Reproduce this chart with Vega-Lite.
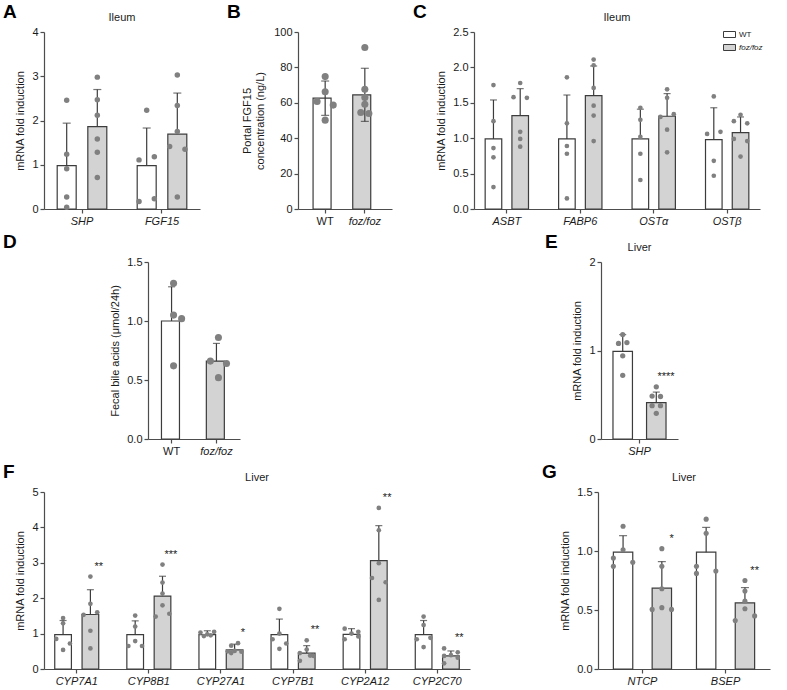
{
"$schema": "https://vega.github.io/schema/vega-lite/v6.json",
"padding": {"left": 3, "top": 3, "right": 5, "bottom": 5},
"background": "white",
"config": {
  "view": {"stroke": null},
  "font": "Liberation Sans",
  "axis": {"domainColor": "#4d4d4d", "domainWidth": 1.2, "tickColor": "#4d4d4d", "tickWidth": 1.2, "tickSize": 4, "labelFontSize": 11, "labelColor": "#1a1a1a", "titleFontSize": 11, "titleFontWeight": "normal", "titleColor": "#1a1a1a", "grid": false, "labelPadding": 2, "titlePadding": 6, "labelOverlap": false},
  "axisY": {"labelOverlap": false},
  "axisX": {"labelAngle": 0, "labelFontStyle": "italic"},
  "title": {"fontSize": 11, "fontWeight": "normal", "color": "#1a1a1a", "baseline": "alphabetic", "offset": 3}
},
"datasets": {
  "A": [
    {"gene":"SHP","group":"WT","mean":0.98,"sd":0.96,"sig":""},
    {"gene":"SHP","group":"foz/foz","mean":1.86,"sd":0.84,"sig":""},
    {"gene":"FGF15","group":"WT","mean":0.98,"sd":0.85,"sig":""},
    {"gene":"FGF15","group":"foz/foz","mean":1.69,"sd":0.93,"sig":""},
    {"gene":"SHP","group":"WT","v":2.46,"lane":"c"},
    {"gene":"SHP","group":"WT","v":1.24,"lane":"c"},
    {"gene":"SHP","group":"WT","v":0.91,"lane":"c"},
    {"gene":"SHP","group":"WT","v":0.27,"lane":"c"},
    {"gene":"SHP","group":"WT","v":0.04,"lane":"c"},
    {"gene":"SHP","group":"foz/foz","v":2.98,"lane":"c"},
    {"gene":"SHP","group":"foz/foz","v":2.47,"lane":"c"},
    {"gene":"SHP","group":"foz/foz","v":2.12,"lane":"c"},
    {"gene":"SHP","group":"foz/foz","v":1.58,"lane":"c"},
    {"gene":"SHP","group":"foz/foz","v":1.28,"lane":"c"},
    {"gene":"SHP","group":"foz/foz","v":0.71,"lane":"c"},
    {"gene":"FGF15","group":"WT","v":2.23,"lane":"c"},
    {"gene":"FGF15","group":"WT","v":1.11,"lane":"a"},
    {"gene":"FGF15","group":"WT","v":1.18,"lane":"e"},
    {"gene":"FGF15","group":"WT","v":0.17,"lane":"a"},
    {"gene":"FGF15","group":"WT","v":0.23,"lane":"e"},
    {"gene":"FGF15","group":"foz/foz","v":3.03,"lane":"c"},
    {"gene":"FGF15","group":"foz/foz","v":2.34,"lane":"c"},
    {"gene":"FGF15","group":"foz/foz","v":1.75,"lane":"c"},
    {"gene":"FGF15","group":"foz/foz","v":1.41,"lane":"a"},
    {"gene":"FGF15","group":"foz/foz","v":1.35,"lane":"e"},
    {"gene":"FGF15","group":"foz/foz","v":0.27,"lane":"c"}
  ],
  "B": [
    {"group":"WT","mean":62.6,"sd":9.7},
    {"group":"foz/foz","mean":64.5,"sd":15},
    {"group":"WT","v":74.8,"lane":"c"},
    {"group":"WT","v":66.2,"lane":"c"},
    {"group":"WT","v":60.7,"lane":"a"},
    {"group":"WT","v":58.7,"lane":"e"},
    {"group":"WT","v":50.2,"lane":"c"},
    {"group":"foz/foz","v":91.2,"lane":"c"},
    {"group":"foz/foz","v":67.7,"lane":"c"},
    {"group":"foz/foz","v":63.0,"lane":"c"},
    {"group":"foz/foz","v":59.2,"lane":"c"},
    {"group":"foz/foz","v":54.5,"lane":"b"},
    {"group":"foz/foz","v":54.0,"lane":"d"}
  ],
  "C": [
    {"gene":"ASBT","group":"WT","mean":0.99,"sd":0.55,"sig":""},
    {"gene":"ASBT","group":"foz/foz","mean":1.32,"sd":0.38,"sig":""},
    {"gene":"FABP6","group":"WT","mean":0.99,"sd":0.62,"sig":""},
    {"gene":"FABP6","group":"foz/foz","mean":1.60,"sd":0.42,"sig":""},
    {"gene":"OSTα","group":"WT","mean":0.99,"sd":0.42,"sig":""},
    {"gene":"OSTα","group":"foz/foz","mean":1.31,"sd":0.32,"sig":""},
    {"gene":"OSTβ","group":"WT","mean":0.98,"sd":0.45,"sig":""},
    {"gene":"OSTβ","group":"foz/foz","mean":1.08,"sd":0.22,"sig":""},
    {"gene":"ASBT","group":"WT","v":1.75,"lane":"c"},
    {"gene":"ASBT","group":"WT","v":1.24,"lane":"c"},
    {"gene":"ASBT","group":"WT","v":0.86,"lane":"c"},
    {"gene":"ASBT","group":"WT","v":0.73,"lane":"c"},
    {"gene":"ASBT","group":"WT","v":0.31,"lane":"c"},
    {"gene":"ASBT","group":"foz/foz","v":1.78,"lane":"c"},
    {"gene":"ASBT","group":"foz/foz","v":1.58,"lane":"a"},
    {"gene":"ASBT","group":"foz/foz","v":1.57,"lane":"e"},
    {"gene":"ASBT","group":"foz/foz","v":1.09,"lane":"c"},
    {"gene":"ASBT","group":"foz/foz","v":0.99,"lane":"c"},
    {"gene":"ASBT","group":"foz/foz","v":0.88,"lane":"c"},
    {"gene":"FABP6","group":"WT","v":1.86,"lane":"c"},
    {"gene":"FABP6","group":"WT","v":1.21,"lane":"c"},
    {"gene":"FABP6","group":"WT","v":0.89,"lane":"c"},
    {"gene":"FABP6","group":"WT","v":0.78,"lane":"c"},
    {"gene":"FABP6","group":"WT","v":0.15,"lane":"c"},
    {"gene":"FABP6","group":"foz/foz","v":2.11,"lane":"c"},
    {"gene":"FABP6","group":"foz/foz","v":2.03,"lane":"c"},
    {"gene":"FABP6","group":"foz/foz","v":1.71,"lane":"c"},
    {"gene":"FABP6","group":"foz/foz","v":1.46,"lane":"c"},
    {"gene":"FABP6","group":"foz/foz","v":1.32,"lane":"c"},
    {"gene":"FABP6","group":"foz/foz","v":0.96,"lane":"c"},
    {"gene":"OSTα","group":"WT","v":1.43,"lane":"c"},
    {"gene":"OSTα","group":"WT","v":1.26,"lane":"c"},
    {"gene":"OSTα","group":"WT","v":1.02,"lane":"c"},
    {"gene":"OSTα","group":"WT","v":0.78,"lane":"c"},
    {"gene":"OSTα","group":"WT","v":0.41,"lane":"c"},
    {"gene":"OSTα","group":"foz/foz","v":1.69,"lane":"c"},
    {"gene":"OSTα","group":"foz/foz","v":1.57,"lane":"c"},
    {"gene":"OSTα","group":"foz/foz","v":1.30,"lane":"a"},
    {"gene":"OSTα","group":"foz/foz","v":1.34,"lane":"e"},
    {"gene":"OSTα","group":"foz/foz","v":1.12,"lane":"c"},
    {"gene":"OSTα","group":"foz/foz","v":0.80,"lane":"c"},
    {"gene":"OSTβ","group":"WT","v":1.59,"lane":"c"},
    {"gene":"OSTβ","group":"WT","v":1.06,"lane":"a"},
    {"gene":"OSTβ","group":"WT","v":1.09,"lane":"e"},
    {"gene":"OSTβ","group":"WT","v":0.68,"lane":"c"},
    {"gene":"OSTβ","group":"WT","v":0.47,"lane":"c"},
    {"gene":"OSTβ","group":"foz/foz","v":1.33,"lane":"c"},
    {"gene":"OSTβ","group":"foz/foz","v":1.24,"lane":"a"},
    {"gene":"OSTβ","group":"foz/foz","v":1.21,"lane":"e"},
    {"gene":"OSTβ","group":"foz/foz","v":0.99,"lane":"a"},
    {"gene":"OSTβ","group":"foz/foz","v":0.96,"lane":"e"},
    {"gene":"OSTβ","group":"foz/foz","v":0.74,"lane":"c"}
  ],
  "D": [
    {"group":"WT","mean":1.0,"sd":0.29},
    {"group":"foz/foz","mean":0.66,"sd":0.15},
    {"group":"WT","v":1.32,"lane":"c"},
    {"group":"WT","v":1.05,"lane":"c"},
    {"group":"WT","v":1.02,"lane":"e"},
    {"group":"WT","v":0.62,"lane":"c"},
    {"group":"foz/foz","v":0.86,"lane":"c"},
    {"group":"foz/foz","v":0.66,"lane":"a"},
    {"group":"foz/foz","v":0.64,"lane":"e"},
    {"group":"foz/foz","v":0.52,"lane":"c"}
  ],
  "E": [
    {"gene":"SHP","group":"WT","mean":0.99,"sd":0.19,"sig":""},
    {"gene":"SHP","group":"foz/foz","mean":0.41,"sd":0.12,"sig":"****"},
    {"gene":"SHP","group":"WT","v":1.18,"lane":"c"},
    {"gene":"SHP","group":"WT","v":1.08,"lane":"b"},
    {"gene":"SHP","group":"WT","v":1.09,"lane":"d"},
    {"gene":"SHP","group":"WT","v":0.94,"lane":"c"},
    {"gene":"SHP","group":"WT","v":0.72,"lane":"c"},
    {"gene":"SHP","group":"foz/foz","v":0.59,"lane":"c"},
    {"gene":"SHP","group":"foz/foz","v":0.485,"lane":"b"},
    {"gene":"SHP","group":"foz/foz","v":0.48,"lane":"d"},
    {"gene":"SHP","group":"foz/foz","v":0.376,"lane":"b"},
    {"gene":"SHP","group":"foz/foz","v":0.376,"lane":"d"},
    {"gene":"SHP","group":"foz/foz","v":0.29,"lane":"c"}
  ],
  "F": [
    {"gene":"CYP7A1","group":"WT","mean":0.97,"sd":0.40,"sig":""},
    {"gene":"CYP7A1","group":"foz/foz","mean":1.54,"sd":0.70,"sig":"**"},
    {"gene":"CYP8B1","group":"WT","mean":0.97,"sd":0.39,"sig":""},
    {"gene":"CYP8B1","group":"foz/foz","mean":2.06,"sd":0.56,"sig":"***"},
    {"gene":"CYP27A1","group":"WT","mean":0.97,"sd":0.11,"sig":""},
    {"gene":"CYP27A1","group":"foz/foz","mean":0.54,"sd":0.16,"sig":"*"},
    {"gene":"CYP7B1","group":"WT","mean":0.97,"sd":0.44,"sig":""},
    {"gene":"CYP7B1","group":"foz/foz","mean":0.45,"sd":0.21,"sig":"**"},
    {"gene":"CYP2A12","group":"WT","mean":0.98,"sd":0.16,"sig":""},
    {"gene":"CYP2A12","group":"foz/foz","mean":3.06,"sd":0.99,"sig":"**"},
    {"gene":"CYP2C70","group":"WT","mean":0.97,"sd":0.40,"sig":""},
    {"gene":"CYP2C70","group":"foz/foz","mean":0.37,"sd":0.14,"sig":"**"},
    {"gene":"CYP7A1","group":"WT","v":1.44,"lane":"c"},
    {"gene":"CYP7A1","group":"WT","v":1.29,"lane":"c"},
    {"gene":"CYP7A1","group":"WT","v":0.85,"lane":"a"},
    {"gene":"CYP7A1","group":"WT","v":0.72,"lane":"e"},
    {"gene":"CYP7A1","group":"WT","v":0.54,"lane":"c"},
    {"gene":"CYP7A1","group":"foz/foz","v":2.61,"lane":"c"},
    {"gene":"CYP7A1","group":"foz/foz","v":1.84,"lane":"c"},
    {"gene":"CYP7A1","group":"foz/foz","v":1.60,"lane":"e"},
    {"gene":"CYP7A1","group":"foz/foz","v":1.53,"lane":"a"},
    {"gene":"CYP7A1","group":"foz/foz","v":1.08,"lane":"c"},
    {"gene":"CYP7A1","group":"foz/foz","v":0.58,"lane":"c"},
    {"gene":"CYP8B1","group":"WT","v":1.51,"lane":"c"},
    {"gene":"CYP8B1","group":"WT","v":1.20,"lane":"c"},
    {"gene":"CYP8B1","group":"WT","v":0.79,"lane":"c"},
    {"gene":"CYP8B1","group":"WT","v":0.65,"lane":"a"},
    {"gene":"CYP8B1","group":"WT","v":0.65,"lane":"e"},
    {"gene":"CYP8B1","group":"foz/foz","v":2.95,"lane":"c"},
    {"gene":"CYP8B1","group":"foz/foz","v":2.44,"lane":"c"},
    {"gene":"CYP8B1","group":"foz/foz","v":2.13,"lane":"c"},
    {"gene":"CYP8B1","group":"foz/foz","v":1.80,"lane":"c"},
    {"gene":"CYP8B1","group":"foz/foz","v":1.48,"lane":"a"},
    {"gene":"CYP8B1","group":"foz/foz","v":1.56,"lane":"e"},
    {"gene":"CYP27A1","group":"WT","v":1.03,"lane":"a"},
    {"gene":"CYP27A1","group":"WT","v":0.93,"lane":"b"},
    {"gene":"CYP27A1","group":"WT","v":0.95,"lane":"d"},
    {"gene":"CYP27A1","group":"WT","v":1.05,"lane":"e"},
    {"gene":"CYP27A1","group":"WT","v":0.98,"lane":"c"},
    {"gene":"CYP27A1","group":"foz/foz","v":0.73,"lane":"d"},
    {"gene":"CYP27A1","group":"foz/foz","v":0.66,"lane":"b"},
    {"gene":"CYP27A1","group":"foz/foz","v":0.50,"lane":"a"},
    {"gene":"CYP27A1","group":"foz/foz","v":0.49,"lane":"e"},
    {"gene":"CYP27A1","group":"foz/foz","v":0.51,"lane":"c"},
    {"gene":"CYP27A1","group":"foz/foz","v":0.45,"lane":"b"},
    {"gene":"CYP7B1","group":"WT","v":1.70,"lane":"c"},
    {"gene":"CYP7B1","group":"WT","v":1.00,"lane":"c"},
    {"gene":"CYP7B1","group":"WT","v":0.84,"lane":"a"},
    {"gene":"CYP7B1","group":"WT","v":0.72,"lane":"e"},
    {"gene":"CYP7B1","group":"WT","v":0.57,"lane":"c"},
    {"gene":"CYP7B1","group":"foz/foz","v":0.81,"lane":"c"},
    {"gene":"CYP7B1","group":"foz/foz","v":0.55,"lane":"c"},
    {"gene":"CYP7B1","group":"foz/foz","v":0.45,"lane":"a"},
    {"gene":"CYP7B1","group":"foz/foz","v":0.38,"lane":"d"},
    {"gene":"CYP7B1","group":"foz/foz","v":0.37,"lane":"e"},
    {"gene":"CYP7B1","group":"foz/foz","v":0.23,"lane":"a"},
    {"gene":"CYP2A12","group":"WT","v":1.14,"lane":"a"},
    {"gene":"CYP2A12","group":"WT","v":1.05,"lane":"e"},
    {"gene":"CYP2A12","group":"WT","v":1.00,"lane":"c"},
    {"gene":"CYP2A12","group":"WT","v":0.84,"lane":"a"},
    {"gene":"CYP2A12","group":"WT","v":0.92,"lane":"e"},
    {"gene":"CYP2A12","group":"foz/foz","v":4.55,"lane":"c"},
    {"gene":"CYP2A12","group":"foz/foz","v":3.92,"lane":"c"},
    {"gene":"CYP2A12","group":"foz/foz","v":2.99,"lane":"c"},
    {"gene":"CYP2A12","group":"foz/foz","v":2.57,"lane":"a"},
    {"gene":"CYP2A12","group":"foz/foz","v":2.45,"lane":"e"},
    {"gene":"CYP2A12","group":"foz/foz","v":1.95,"lane":"c"},
    {"gene":"CYP2C70","group":"WT","v":1.48,"lane":"c"},
    {"gene":"CYP2C70","group":"WT","v":1.24,"lane":"c"},
    {"gene":"CYP2C70","group":"WT","v":0.84,"lane":"a"},
    {"gene":"CYP2C70","group":"WT","v":0.88,"lane":"e"},
    {"gene":"CYP2C70","group":"WT","v":0.62,"lane":"c"},
    {"gene":"CYP2C70","group":"foz/foz","v":0.58,"lane":"a"},
    {"gene":"CYP2C70","group":"foz/foz","v":0.47,"lane":"e"},
    {"gene":"CYP2C70","group":"foz/foz","v":0.39,"lane":"c"},
    {"gene":"CYP2C70","group":"foz/foz","v":0.37,"lane":"a"},
    {"gene":"CYP2C70","group":"foz/foz","v":0.32,"lane":"e"},
    {"gene":"CYP2C70","group":"foz/foz","v":0.16,"lane":"a"}
  ],
  "G": [
    {"gene":"NTCP","group":"WT","mean":0.99,"sd":0.14,"sig":""},
    {"gene":"NTCP","group":"foz/foz","mean":0.685,"sd":0.225,"sig":"*"},
    {"gene":"BSEP","group":"WT","mean":0.99,"sd":0.21,"sig":""},
    {"gene":"BSEP","group":"foz/foz","mean":0.56,"sd":0.13,"sig":"**"},
    {"gene":"NTCP","group":"WT","v":1.21,"lane":"c"},
    {"gene":"NTCP","group":"WT","v":1.01,"lane":"c"},
    {"gene":"NTCP","group":"WT","v":0.94,"lane":"a"},
    {"gene":"NTCP","group":"WT","v":0.87,"lane":"a"},
    {"gene":"NTCP","group":"WT","v":0.905,"lane":"e"},
    {"gene":"NTCP","group":"foz/foz","v":1.02,"lane":"c"},
    {"gene":"NTCP","group":"foz/foz","v":0.87,"lane":"c"},
    {"gene":"NTCP","group":"foz/foz","v":0.68,"lane":"c"},
    {"gene":"NTCP","group":"foz/foz","v":0.52,"lane":"c"},
    {"gene":"NTCP","group":"foz/foz","v":0.505,"lane":"a"},
    {"gene":"NTCP","group":"foz/foz","v":0.505,"lane":"e"},
    {"gene":"BSEP","group":"WT","v":1.27,"lane":"c"},
    {"gene":"BSEP","group":"WT","v":1.15,"lane":"c"},
    {"gene":"BSEP","group":"WT","v":0.87,"lane":"a"},
    {"gene":"BSEP","group":"WT","v":0.81,"lane":"a"},
    {"gene":"BSEP","group":"WT","v":0.83,"lane":"e"},
    {"gene":"BSEP","group":"foz/foz","v":0.75,"lane":"c"},
    {"gene":"BSEP","group":"foz/foz","v":0.66,"lane":"c"},
    {"gene":"BSEP","group":"foz/foz","v":0.575,"lane":"c"},
    {"gene":"BSEP","group":"foz/foz","v":0.51,"lane":"c"},
    {"gene":"BSEP","group":"foz/foz","v":0.41,"lane":"a"},
    {"gene":"BSEP","group":"foz/foz","v":0.45,"lane":"e"}
  ]
},
"spacing": 7,
"resolve": {"scale": {"fill": "independent"}, "legend": {"fill": "independent"}},
"vconcat": [
 {"hconcat": [
  {"width": 41, "height": 177, "data": {"values": [{}]}, "mark": {"type": "point", "opacity": 0}, "encoding": {}, "title": {"text": "A", "anchor": "start", "fontSize": 19, "fontWeight": "bold", "offset": 10, "color": "#000000"}},
  {"width": 156, "height": 177, "title": {"text": "Ileum"}, "data": {"name": "A"},
   "encoding": {"x": {"field": "gene", "type": "nominal", "sort": ["SHP","FGF15"], "title": null, "scale": {"paddingInner": 0.38, "paddingOuter": 0.165}}},
   "layer": [
     {"transform": [{"filter": "isValid(datum.mean)"}], "mark": {"type": "bar", "stroke": "#3c3c3c", "strokeWidth": 1.2},
      "encoding": {"xOffset": {"field": "group", "type": "nominal", "scale": {"domain": ["WT","foz/foz"], "paddingInner": 0.38, "paddingOuter": 0}},
        "y": {"field": "mean", "type": "quantitative", "title": "mRNA fold induction", "scale": {"domain": [0,4]}, "axis": {"values": [0,1,2,3,4], "tickCount": 20, "format": "d", "labelOverlap": false}},
        "fill": {"field": "group", "type": "nominal", "scale": {"domain": ["WT","foz/foz"], "range": ["#ffffff","#d3d3d3"]}, "legend": null}}},
     {"transform": [{"filter": "isValid(datum.mean)"}, {"calculate": "datum.mean + datum.sd", "as": "hi"}], "mark": {"type": "rule", "color": "#3c3c3c", "strokeWidth": 1.2},
      "encoding": {"xOffset": {"field": "group", "type": "nominal", "scale": {"domain": ["WT","foz/foz"], "paddingInner": 0.38, "paddingOuter": 0}},
        "y": {"field": "mean", "type": "quantitative", "title": "mRNA fold induction", "scale": {"domain": [0,4]}, "axis": {"values": [0,1,2,3,4], "tickCount": 20, "format": "d", "labelOverlap": false}}, "y2": {"field": "hi"}}},
     {"transform": [{"filter": "isValid(datum.mean)"}, {"calculate": "datum.mean + datum.sd", "as": "hi"}], "mark": {"type": "tick", "color": "#3c3c3c", "thickness": 1.2, "size": 8},
      "encoding": {"xOffset": {"field": "group", "type": "nominal", "scale": {"domain": ["WT","foz/foz"], "paddingInner": 0.38, "paddingOuter": 0}},
        "y": {"field": "hi", "type": "quantitative", "title": "mRNA fold induction", "scale": {"domain": [0,4]}, "axis": {"values": [0,1,2,3,4], "tickCount": 20, "format": "d", "labelOverlap": false}}}},
     {"transform": [{"filter": "isValid(datum.v)"}, {"calculate": "datum.group + '|' + datum.lane", "as": "slot"}], "mark": {"type": "circle", "color": "#808080", "opacity": 1, "size": 30},
      "encoding": {"xOffset": {"field": "slot", "type": "nominal", "scale": {"type": "point", "domain": ["WT|a","WT|b","WT|c","WT|d","WT|e","g1","g2","g3","foz/foz|a","foz/foz|b","foz/foz|c","foz/foz|d","foz/foz|e"], "padding": 0.48}},
        "y": {"field": "v", "type": "quantitative", "title": "mRNA fold induction", "scale": {"domain": [0,4]}, "axis": {"values": [0,1,2,3,4], "tickCount": 20, "format": "d", "labelOverlap": false}}}}
   ],
   "resolve": {"scale": {"xOffset": "independent"}}},
  {"width": 98, "height": 177, "data": {"values": [{}]}, "mark": {"type": "point", "opacity": 0}, "encoding": {}, "title": {"text": "B", "anchor": "start", "fontSize": 19, "fontWeight": "bold", "offset": 10, "dx": 27, "color": "#000000"}},
  {"width": 94, "height": 177, "data": {"name": "B"},
   "encoding": {"x": {"field": "group", "type": "nominal", "sort": ["WT","foz/foz"], "title": null, "scale": {"paddingInner": 0.39, "paddingOuter": 0.38},
     "axis": {"labelFontStyle": {"condition": {"test": "datum.value === 'foz/foz'", "value": "italic"}, "value": "normal"}}}},
   "layer": [
     {"transform": [{"filter": "isValid(datum.mean)"}], "mark": {"type": "bar", "stroke": "#3c3c3c", "strokeWidth": 1.2},
      "encoding": {"y": {"field": "mean", "type": "quantitative", "title": ["Portal FGF15","concentration (ng/L)"], "scale": {"domain": [0,100]}, "axis": {"values": [0,20,40,60,80,100], "tickCount": 20, "format": "d", "labelOverlap": false, "titlePadding": 8}},
        "fill": {"field": "group", "type": "nominal", "scale": {"domain": ["WT","foz/foz"], "range": ["#ffffff","#d3d3d3"]}, "legend": null}}},
     {"transform": [{"filter": "isValid(datum.mean)"}, {"calculate": "datum.mean + datum.sd", "as": "hi"}, {"calculate": "datum.mean - datum.sd", "as": "lo"}], "mark": {"type": "rule", "color": "#3c3c3c", "strokeWidth": 1.2},
      "encoding": {"y": {"field": "lo", "type": "quantitative", "title": ["Portal FGF15","concentration (ng/L)"], "scale": {"domain": [0,100]}, "axis": {"values": [0,20,40,60,80,100], "tickCount": 20, "format": "d", "labelOverlap": false, "titlePadding": 8}}, "y2": {"field": "hi"}}},
     {"transform": [{"filter": "isValid(datum.mean)"}, {"calculate": "datum.mean + datum.sd", "as": "hi"}], "mark": {"type": "tick", "color": "#3c3c3c", "thickness": 1.2, "size": 8},
      "encoding": {"y": {"field": "hi", "type": "quantitative", "title": ["Portal FGF15","concentration (ng/L)"], "scale": {"domain": [0,100]}, "axis": {"values": [0,20,40,60,80,100], "tickCount": 20, "format": "d", "labelOverlap": false, "titlePadding": 8}}}},
     {"transform": [{"filter": "isValid(datum.mean)"}, {"calculate": "datum.mean - datum.sd", "as": "lo"}], "mark": {"type": "tick", "color": "#3c3c3c", "thickness": 1.2, "size": 8},
      "encoding": {"y": {"field": "lo", "type": "quantitative", "title": ["Portal FGF15","concentration (ng/L)"], "scale": {"domain": [0,100]}, "axis": {"values": [0,20,40,60,80,100], "tickCount": 20, "format": "d", "labelOverlap": false, "titlePadding": 8}}}},
     {"transform": [{"filter": "isValid(datum.v)"}], "mark": {"type": "circle", "color": "#808080", "opacity": 1, "size": 50},
      "encoding": {"xOffset": {"field": "lane", "type": "nominal", "scale": {"type": "point", "domain": ["a","b","c","d","e"], "padding": 2.35}},
        "y": {"field": "v", "type": "quantitative", "title": ["Portal FGF15","concentration (ng/L)"], "scale": {"domain": [0,100]}, "axis": {"values": [0,20,40,60,80,100], "tickCount": 20, "format": "d", "labelOverlap": false, "titlePadding": 8}}}}
   ]},
  {"width": 82, "height": 177, "data": {"values": [{}]}, "mark": {"type": "point", "opacity": 0}, "encoding": {}, "title": {"text": "C", "anchor": "start", "fontSize": 19, "fontWeight": "bold", "offset": 10, "dx": 21, "color": "#000000"}},
  {"width": 286, "height": 177, "title": {"text": "Ileum"}, "data": {"name": "C"},
   "encoding": {"x": {"field": "gene", "type": "nominal", "sort": ["ASBT","FABP6","OSTα","OSTβ"], "title": null, "scale": {"paddingInner": 0.41, "paddingOuter": 0.152}}},
   "layer": [
     {"transform": [{"filter": "isValid(datum.mean)"}], "mark": {"type": "bar", "stroke": "#3c3c3c", "strokeWidth": 1.2},
      "encoding": {"xOffset": {"field": "group", "type": "nominal", "scale": {"domain": ["WT","foz/foz"], "paddingInner": 0.38, "paddingOuter": 0}},
        "y": {"field": "mean", "type": "quantitative", "title": "mRNA fold induction", "scale": {"domain": [0,2.5]}, "axis": {"values": [0,0.5,1,1.5,2,2.5], "tickCount": 20, "format": ".1f", "labelOverlap": false}},
        "fill": {"field": "group", "type": "nominal", "scale": {"domain": ["WT","foz/foz"], "range": ["#ffffff","#d3d3d3"]},
          "legend": {"orient": "none", "legendX": 249, "legendY": -4, "title": null, "symbolType": "M-1,-0.5H1V0.5H-1Z", "symbolSize": 144, "symbolStrokeColor": "#3c3c3c", "symbolStrokeWidth": 1, "labelFontSize": 8, "labelColor": "#1a1a1a", "rowPadding": 1, "padding": 0, "labelOffset": 3,
            "encode": {"labels": {"update": {"fontStyle": {"signal": "datum.value === 'foz/foz' ? 'italic' : 'normal'"}}}}}}}},
     {"transform": [{"filter": "isValid(datum.mean)"}, {"calculate": "datum.mean + datum.sd", "as": "hi"}], "mark": {"type": "rule", "color": "#3c3c3c", "strokeWidth": 1.2},
      "encoding": {"xOffset": {"field": "group", "type": "nominal", "scale": {"domain": ["WT","foz/foz"], "paddingInner": 0.38, "paddingOuter": 0}},
        "y": {"field": "mean", "type": "quantitative", "title": "mRNA fold induction", "scale": {"domain": [0,2.5]}, "axis": {"values": [0,0.5,1,1.5,2,2.5], "tickCount": 20, "format": ".1f", "labelOverlap": false}}, "y2": {"field": "hi"}}},
     {"transform": [{"filter": "isValid(datum.mean)"}, {"calculate": "datum.mean + datum.sd", "as": "hi"}], "mark": {"type": "tick", "color": "#3c3c3c", "thickness": 1.2, "size": 7},
      "encoding": {"xOffset": {"field": "group", "type": "nominal", "scale": {"domain": ["WT","foz/foz"], "paddingInner": 0.38, "paddingOuter": 0}},
        "y": {"field": "hi", "type": "quantitative", "title": "mRNA fold induction", "scale": {"domain": [0,2.5]}, "axis": {"values": [0,0.5,1,1.5,2,2.5], "tickCount": 20, "format": ".1f", "labelOverlap": false}}}},
     {"transform": [{"filter": "isValid(datum.v)"}, {"calculate": "datum.group + '|' + datum.lane", "as": "slot"}], "mark": {"type": "circle", "color": "#808080", "opacity": 1, "size": 22},
      "encoding": {"xOffset": {"field": "slot", "type": "nominal", "scale": {"type": "point", "domain": ["WT|a","WT|b","WT|c","WT|d","WT|e","g1","g2","g3","foz/foz|a","foz/foz|b","foz/foz|c","foz/foz|d","foz/foz|e"], "padding": 0.48}},
        "y": {"field": "v", "type": "quantitative", "title": "mRNA fold induction", "scale": {"domain": [0,2.5]}, "axis": {"values": [0,0.5,1,1.5,2,2.5], "tickCount": 20, "format": ".1f", "labelOverlap": false}}}}
   ],
   "resolve": {"scale": {"xOffset": "independent"}}}
 ], "spacing": 0, "bounds": "flush", "resolve": {"scale": {"fill": "independent"}, "legend": {"fill": "independent"}}},

 {"hconcat": [
  {"width": 145, "height": 177, "data": {"values": [{}]}, "mark": {"type": "point", "opacity": 0}, "encoding": {}, "title": {"text": "D", "anchor": "start", "fontSize": 19, "fontWeight": "bold", "offset": 10, "color": "#000000"}},
  {"width": 92, "height": 177, "data": {"name": "D"},
   "encoding": {"x": {"field": "group", "type": "nominal", "sort": ["WT","foz/foz"], "title": null, "scale": {"paddingInner": 0.55, "paddingOuter": 0.3},
     "axis": {"labelFontStyle": {"condition": {"test": "datum.value === 'foz/foz'", "value": "italic"}, "value": "normal"}}}},
   "layer": [
     {"transform": [{"filter": "isValid(datum.mean)"}], "mark": {"type": "bar", "stroke": "#3c3c3c", "strokeWidth": 1.2},
      "encoding": {"y": {"field": "mean", "type": "quantitative", "title": "Fecal bile acids (μmol/24h)", "scale": {"domain": [0,1.5]}, "axis": {"values": [0,0.5,1,1.5], "tickCount": 20, "format": ".1f", "labelOverlap": false}},
        "fill": {"field": "group", "type": "nominal", "scale": {"domain": ["WT","foz/foz"], "range": ["#ffffff","#d3d3d3"]}, "legend": null}}},
     {"transform": [{"filter": "isValid(datum.mean)"}, {"calculate": "datum.mean + datum.sd", "as": "hi"}], "mark": {"type": "rule", "color": "#3c3c3c", "strokeWidth": 1.2},
      "encoding": {"y": {"field": "mean", "type": "quantitative", "title": "Fecal bile acids (μmol/24h)", "scale": {"domain": [0,1.5]}, "axis": {"values": [0,0.5,1,1.5], "tickCount": 20, "format": ".1f", "labelOverlap": false}}, "y2": {"field": "hi"}}},
     {"transform": [{"filter": "isValid(datum.mean)"}, {"calculate": "datum.mean + datum.sd", "as": "hi"}], "mark": {"type": "tick", "color": "#3c3c3c", "thickness": 1.2, "size": 7},
      "encoding": {"y": {"field": "hi", "type": "quantitative", "title": "Fecal bile acids (μmol/24h)", "scale": {"domain": [0,1.5]}, "axis": {"values": [0,0.5,1,1.5], "tickCount": 20, "format": ".1f", "labelOverlap": false}}}},
     {"transform": [{"filter": "isValid(datum.v)"}], "mark": {"type": "circle", "color": "#808080", "opacity": 1, "size": 50},
      "encoding": {"xOffset": {"field": "lane", "type": "nominal", "scale": {"type": "point", "domain": ["a","b","c","d","e"], "padding": 1.35}},
        "y": {"field": "v", "type": "quantitative", "title": "Fecal bile acids (μmol/24h)", "scale": {"domain": [0,1.5]}, "axis": {"values": [0,0.5,1,1.5], "tickCount": 20, "format": ".1f", "labelOverlap": false}}}}
   ]},
  {"width": 361, "height": 177, "data": {"values": [{}]}, "mark": {"type": "point", "opacity": 0}, "encoding": {}, "title": {"text": "E", "anchor": "start", "fontSize": 19, "fontWeight": "bold", "offset": 10, "dx": 305, "color": "#000000"}},
  {"width": 77, "height": 177, "title": {"text": "Liver"}, "data": {"name": "E"},
   "encoding": {"x": {"field": "gene", "type": "nominal", "title": null, "scale": {"paddingInner": 0.38, "paddingOuter": 0.14}}},
   "layer": [
     {"transform": [{"filter": "isValid(datum.mean)"}], "mark": {"type": "bar", "stroke": "#3c3c3c", "strokeWidth": 1.2},
      "encoding": {"xOffset": {"field": "group", "type": "nominal", "scale": {"domain": ["WT","foz/foz"], "paddingInner": 0.42, "paddingOuter": 0}},
        "y": {"field": "mean", "type": "quantitative", "title": "mRNA fold induction", "scale": {"domain": [0,2]}, "axis": {"values": [0,1,2], "tickCount": 20, "labelExpr": "format(datum.value, '.0f')", "labelOverlap": false}},
        "fill": {"field": "group", "type": "nominal", "scale": {"domain": ["WT","foz/foz"], "range": ["#ffffff","#d3d3d3"]}, "legend": null}}},
     {"transform": [{"filter": "isValid(datum.mean)"}, {"calculate": "datum.mean + datum.sd", "as": "hi"}], "mark": {"type": "rule", "color": "#3c3c3c", "strokeWidth": 1.2},
      "encoding": {"xOffset": {"field": "group", "type": "nominal", "scale": {"domain": ["WT","foz/foz"], "paddingInner": 0.42, "paddingOuter": 0}},
        "y": {"field": "mean", "type": "quantitative", "title": "mRNA fold induction", "scale": {"domain": [0,2]}, "axis": {"values": [0,1,2], "tickCount": 20, "labelExpr": "format(datum.value, '.0f')", "labelOverlap": false}}, "y2": {"field": "hi"}}},
     {"transform": [{"filter": "isValid(datum.mean)"}, {"calculate": "datum.mean + datum.sd", "as": "hi"}], "mark": {"type": "tick", "color": "#3c3c3c", "thickness": 1.2, "size": 7},
      "encoding": {"xOffset": {"field": "group", "type": "nominal", "scale": {"domain": ["WT","foz/foz"], "paddingInner": 0.42, "paddingOuter": 0}},
        "y": {"field": "hi", "type": "quantitative", "title": "mRNA fold induction", "scale": {"domain": [0,2]}, "axis": {"values": [0,1,2], "tickCount": 20, "labelExpr": "format(datum.value, '.0f')", "labelOverlap": false}}}},
     {"transform": [{"filter": "isValid(datum.v)"}, {"calculate": "datum.group + '|' + datum.lane", "as": "slot"}], "mark": {"type": "circle", "color": "#808080", "opacity": 1, "size": 28},
      "encoding": {"xOffset": {"field": "slot", "type": "nominal", "scale": {"type": "point", "domain": ["WT|a","WT|b","WT|c","WT|d","WT|e","g1","g2","g3","foz/foz|a","foz/foz|b","foz/foz|c","foz/foz|d","foz/foz|e"], "padding": 0.32}},
        "y": {"field": "v", "type": "quantitative", "title": "mRNA fold induction", "scale": {"domain": [0,2]}, "axis": {"values": [0,1,2], "tickCount": 20, "labelExpr": "format(datum.value, '.0f')", "labelOverlap": false}}}},
     {"transform": [{"joinaggregate": [{"op": "max", "field": "v", "as": "vmax"}], "groupby": ["gene","group"]}, {"filter": "datum.sig"}], "mark": {"type": "text", "fontSize": 11, "baseline": "alphabetic", "dy": -7, "color": "#1a1a1a"},
      "encoding": {"xOffset": {"field": "group", "type": "nominal", "scale": {"domain": ["WT","foz/foz"], "paddingInner": 0.42, "paddingOuter": 0}},
        "y": {"field": "vmax", "type": "quantitative", "title": "mRNA fold induction", "scale": {"domain": [0,2]}, "axis": {"values": [0,1,2], "tickCount": 20, "labelExpr": "format(datum.value, '.0f')", "labelOverlap": false}}, "text": {"field": "sig"}}}
   ],
   "resolve": {"scale": {"xOffset": "independent"}}}
 ], "spacing": 0, "bounds": "flush", "resolve": {"scale": {"fill": "independent"}, "legend": {"fill": "independent"}}},

 {"hconcat": [
  {"width": 41, "height": 177, "data": {"values": [{}]}, "mark": {"type": "point", "opacity": 0}, "encoding": {}, "title": {"text": "F", "anchor": "start", "fontSize": 19, "fontWeight": "bold", "offset": 10, "color": "#000000"}},
  {"width": 426, "height": 177, "title": {"text": "Liver"}, "data": {"name": "F"},
   "encoding": {"x": {"field": "gene", "type": "nominal", "sort": ["CYP7A1","CYP8B1","CYP27A1","CYP7B1","CYP2A12","CYP2C70"], "title": null, "scale": {"paddingInner": 0.39, "paddingOuter": 0.149}}},
   "layer": [
     {"transform": [{"filter": "isValid(datum.mean)"}], "mark": {"type": "bar", "stroke": "#3c3c3c", "strokeWidth": 1.2},
      "encoding": {"xOffset": {"field": "group", "type": "nominal", "scale": {"domain": ["WT","foz/foz"], "paddingInner": 0.39, "paddingOuter": 0}},
        "y": {"field": "mean", "type": "quantitative", "title": "mRNA fold induction", "scale": {"domain": [0,5]}, "axis": {"values": [0,1,2,3,4,5], "tickCount": 20, "format": "d", "labelOverlap": false}},
        "fill": {"field": "group", "type": "nominal", "scale": {"domain": ["WT","foz/foz"], "range": ["#ffffff","#d3d3d3"]}, "legend": null}}},
     {"transform": [{"filter": "isValid(datum.mean)"}, {"calculate": "datum.mean + datum.sd", "as": "hi"}], "mark": {"type": "rule", "color": "#3c3c3c", "strokeWidth": 1.2},
      "encoding": {"xOffset": {"field": "group", "type": "nominal", "scale": {"domain": ["WT","foz/foz"], "paddingInner": 0.39, "paddingOuter": 0}},
        "y": {"field": "mean", "type": "quantitative", "title": "mRNA fold induction", "scale": {"domain": [0,5]}, "axis": {"values": [0,1,2,3,4,5], "tickCount": 20, "format": "d", "labelOverlap": false}}, "y2": {"field": "hi"}}},
     {"transform": [{"filter": "isValid(datum.mean)"}, {"calculate": "datum.mean + datum.sd", "as": "hi"}], "mark": {"type": "tick", "color": "#3c3c3c", "thickness": 1.2, "size": 7},
      "encoding": {"xOffset": {"field": "group", "type": "nominal", "scale": {"domain": ["WT","foz/foz"], "paddingInner": 0.39, "paddingOuter": 0}},
        "y": {"field": "hi", "type": "quantitative", "title": "mRNA fold induction", "scale": {"domain": [0,5]}, "axis": {"values": [0,1,2,3,4,5], "tickCount": 20, "format": "d", "labelOverlap": false}}}},
     {"transform": [{"filter": "isValid(datum.v)"}, {"calculate": "datum.group + '|' + datum.lane", "as": "slot"}], "mark": {"type": "circle", "color": "#808080", "opacity": 1, "size": 22},
      "encoding": {"xOffset": {"field": "slot", "type": "nominal", "scale": {"type": "point", "domain": ["WT|a","WT|b","WT|c","WT|d","WT|e","g1","g2","g3","foz/foz|a","foz/foz|b","foz/foz|c","foz/foz|d","foz/foz|e"], "padding": 0.44}},
        "y": {"field": "v", "type": "quantitative", "title": "mRNA fold induction", "scale": {"domain": [0,5]}, "axis": {"values": [0,1,2,3,4,5], "tickCount": 20, "format": "d", "labelOverlap": false}}}},
     {"transform": [{"joinaggregate": [{"op": "max", "field": "v", "as": "vmax"}], "groupby": ["gene","group"]}, {"filter": "datum.sig"}], "mark": {"type": "text", "fontSize": 11, "baseline": "alphabetic", "dy": -7, "color": "#1a1a1a"},
      "encoding": {"xOffset": {"field": "group", "type": "nominal", "scale": {"domain": ["WT","foz/foz"], "paddingInner": 0.39, "paddingOuter": 0}},
        "y": {"field": "vmax", "type": "quantitative", "title": "mRNA fold induction", "scale": {"domain": [0,5]}, "axis": {"values": [0,1,2,3,4,5], "tickCount": 20, "format": "d", "labelOverlap": false}}, "text": {"field": "sig"}}}
   ],
   "resolve": {"scale": {"xOffset": "independent"}}},
  {"width": 128, "height": 177, "data": {"values": [{}]}, "mark": {"type": "point", "opacity": 0}, "encoding": {}, "title": {"text": "G", "anchor": "start", "fontSize": 19, "fontWeight": "bold", "offset": 10, "dx": 72, "color": "#000000"}},
  {"width": 172, "height": 177, "title": {"text": "Liver"}, "data": {"name": "G"},
   "encoding": {"x": {"field": "gene", "type": "nominal", "sort": ["NTCP","BSEP"], "title": null, "scale": {"paddingInner": 0.3, "paddingOuter": 0.185}}},
   "layer": [
     {"transform": [{"filter": "isValid(datum.mean)"}], "mark": {"type": "bar", "stroke": "#3c3c3c", "strokeWidth": 1.2},
      "encoding": {"xOffset": {"field": "group", "type": "nominal", "scale": {"domain": ["WT","foz/foz"], "paddingInner": 0.5, "paddingOuter": 0}},
        "y": {"field": "mean", "type": "quantitative", "title": "mRNA fold induction", "scale": {"domain": [0,1.5]}, "axis": {"values": [0,0.5,1,1.5], "tickCount": 20, "format": ".1f", "labelOverlap": false}},
        "fill": {"field": "group", "type": "nominal", "scale": {"domain": ["WT","foz/foz"], "range": ["#ffffff","#d3d3d3"]}, "legend": null}}},
     {"transform": [{"filter": "isValid(datum.mean)"}, {"calculate": "datum.mean + datum.sd", "as": "hi"}], "mark": {"type": "rule", "color": "#3c3c3c", "strokeWidth": 1.2},
      "encoding": {"xOffset": {"field": "group", "type": "nominal", "scale": {"domain": ["WT","foz/foz"], "paddingInner": 0.5, "paddingOuter": 0}},
        "y": {"field": "mean", "type": "quantitative", "title": "mRNA fold induction", "scale": {"domain": [0,1.5]}, "axis": {"values": [0,0.5,1,1.5], "tickCount": 20, "format": ".1f", "labelOverlap": false}}, "y2": {"field": "hi"}}},
     {"transform": [{"filter": "isValid(datum.mean)"}, {"calculate": "datum.mean + datum.sd", "as": "hi"}], "mark": {"type": "tick", "color": "#3c3c3c", "thickness": 1.2, "size": 8},
      "encoding": {"xOffset": {"field": "group", "type": "nominal", "scale": {"domain": ["WT","foz/foz"], "paddingInner": 0.5, "paddingOuter": 0}},
        "y": {"field": "hi", "type": "quantitative", "title": "mRNA fold induction", "scale": {"domain": [0,1.5]}, "axis": {"values": [0,0.5,1,1.5], "tickCount": 20, "format": ".1f", "labelOverlap": false}}}},
     {"transform": [{"filter": "isValid(datum.v)"}, {"calculate": "datum.group + '|' + datum.lane", "as": "slot"}], "mark": {"type": "circle", "color": "#808080", "opacity": 1, "size": 26},
      "encoding": {"xOffset": {"field": "slot", "type": "nominal", "scale": {"type": "point", "domain": ["WT|a","WT|b","WT|c","WT|d","WT|e","g1","g2","g3","foz/foz|a","foz/foz|b","foz/foz|c","foz/foz|d","foz/foz|e"], "padding": 0}},
        "y": {"field": "v", "type": "quantitative", "title": "mRNA fold induction", "scale": {"domain": [0,1.5]}, "axis": {"values": [0,0.5,1,1.5], "tickCount": 20, "format": ".1f", "labelOverlap": false}}}},
     {"transform": [{"joinaggregate": [{"op": "max", "field": "v", "as": "vmax"}], "groupby": ["gene","group"]}, {"filter": "datum.sig"}], "mark": {"type": "text", "fontSize": 11, "baseline": "alphabetic", "dy": -7, "color": "#1a1a1a"},
      "encoding": {"xOffset": {"field": "group", "type": "nominal", "scale": {"domain": ["WT","foz/foz"], "paddingInner": 0.5, "paddingOuter": 0}},
        "y": {"field": "vmax", "type": "quantitative", "title": "mRNA fold induction", "scale": {"domain": [0,1.5]}, "axis": {"values": [0,0.5,1,1.5], "tickCount": 20, "format": ".1f", "labelOverlap": false}}, "text": {"field": "sig"}}}
   ],
   "resolve": {"scale": {"xOffset": "independent"}}}
 ], "spacing": 0, "bounds": "flush", "resolve": {"scale": {"fill": "independent"}, "legend": {"fill": "independent"}}}
]
}
